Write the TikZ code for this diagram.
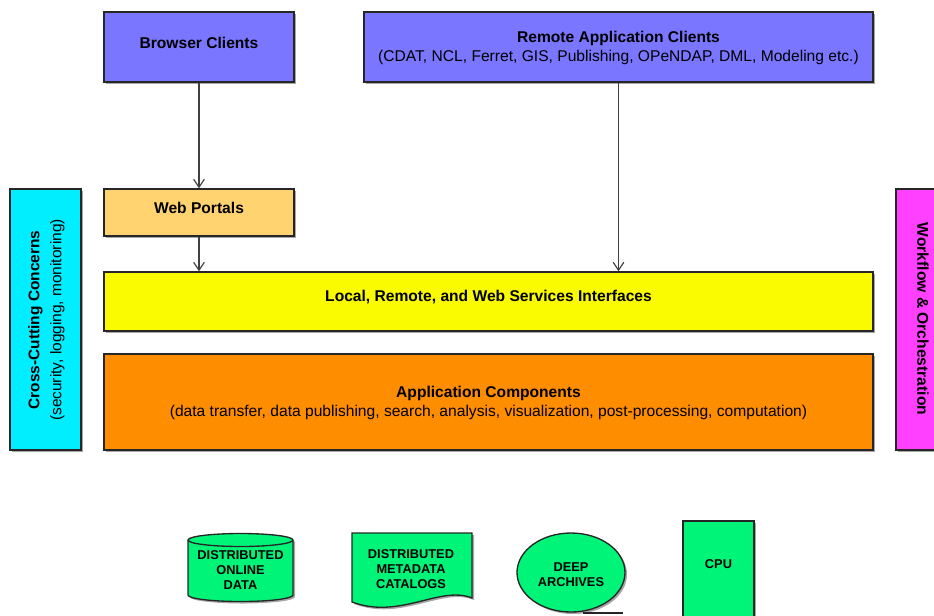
\documentclass[tikz,border=0pt]{standalone}
\usepackage{fontspec}
\setmainfont{Liberation Sans}
\usetikzlibrary{fit,shadows,arrows.meta}

\definecolor{clientblue}{RGB}{123,118,255}
\definecolor{portalsand}{RGB}{255,211,112}
\definecolor{ifaceyellow}{RGB}{250,250,0}
\definecolor{compsorange}{RGB}{255,141,0}
\definecolor{crosscyan}{RGB}{0,238,255}
\definecolor{flowmagenta}{RGB}{255,64,255}
\definecolor{resgreen}{RGB}{0,245,120}

\tikzset{every picture/.style={line width=0.75pt},
  boxshadow/.style={drop shadow={shadow xshift=1.5pt,shadow yshift=-1.5pt,opacity=0.35,fill=black}},
  layer/.style={draw=black!85,line width=1pt,inner sep=0pt,boxshadow},
  boxtext/.style={inner sep=0.75pt,align=center,font=\fontsize{11.7}{14.2}\selectfont},
  sidetext/.style={inner sep=0.75pt,align=center,font=\fontsize{11.6}{16.5}\selectfont},
  restext/.style={inner sep=0.75pt,align=center,font=\fontsize{9.6}{11.2}\selectfont\bfseries},
  flow/.style={draw=black!75,line width=0.9pt,-{Straight Barb[length=6pt,width=8pt]}}
}

\begin{document}
\begin{tikzpicture}[x=0.75pt,y=0.75pt,yscale=-1,xscale=1]
\useasboundingbox (0,0) rectangle (934,615);
\clip (0,0) rectangle (934,615);

%Shape: Rectangle
\node [layer,fill=clientblue,fit={(104,12) (294,82)}] (browser) {};
%Shape: Rectangle
\node [layer,fill=clientblue,fit={(364,12) (873,82)}] (remote) {};
%Shape: Rectangle
\node [layer,fill=portalsand,fit={(104,189) (294,236)}] (portals) {};
%Shape: Rectangle
\node [layer,fill=ifaceyellow,fit={(104,272) (873,331)}] (iface) {};
%Shape: Rectangle
\node [layer,fill=compsorange,fit={(104,354) (873,450)}] (comps) {};
%Shape: Rectangle
\node [layer,fill=crosscyan,fit={(10,189) (81,450)}] (cross) {};
%Shape: Rectangle
\node [layer,fill=flowmagenta,fit={(896,189) (950,450)}] (flow) {};

%Shape: Can
\draw [layer,fill=resgreen] (188,540) -- (188,595) arc [start angle=180,end angle=0,x radius=52.5,y radius=6.5] -- (293,540) arc [start angle=0,end angle=-180,x radius=52.5,y radius=6.5] -- cycle ;
\draw [draw=black!85,line width=1pt] (188,540) arc [start angle=180,end angle=0,x radius=52.5,y radius=6.5] ;
%Shape: Document
\draw [layer,fill=resgreen] (352,533) -- (472,533) -- (472,598) .. controls (440,585) and (400,620) .. (352,602) -- cycle ;
%Shape: Ellipse
\draw [layer,fill=resgreen] (571,572.5) ellipse [x radius=54,y radius=39.5] ;
%Shape: Rectangle
\draw [layer,fill=resgreen] (683,521) rectangle (754,650) ;
%Straight Lines
\draw [draw=black!85,line width=1pt] (583,613) -- (623,613) ;

% Text Node
\draw (199,42.5) node [boxtext] (browserlbl) {\bfseries Browser Clients};
% Text Node
\draw (618.5,47.5) node [boxtext] (remotelbl) {\bfseries Remote Application Clients\\(CDAT, NCL, Ferret, GIS, Publishing, OPeNDAP, DML, Modeling etc.)};
% Text Node
\draw (199,208) node [boxtext] (portalslbl) {\bfseries Web Portals};
% Text Node
\draw (488.5,297) node [boxtext] (ifacelbl) {\bfseries Local, Remote, and Web Services Interfaces};
% Text Node
\draw (488.5,402.5) node [boxtext] (compslbl) {\bfseries Application Components\\(data transfer, data publishing, search, analysis, visualization, post-processing, computation)};
% Text Node
\draw (46.5,320) node [sidetext,rotate=90] (crosslbl) {\bfseries Cross-Cutting Concerns\\(security, logging, monitoring)};
% Text Node
\draw (923,319) node [boxtext,rotate=-90] (flowlbl) {\bfseries Workflow \& Orchestration};
% Text Node
\draw (240.5,570) node [restext] (onlinedata) {DISTRIBUTED\\ONLINE\\DATA};
% Text Node
\draw (411,569.5) node [restext] (catalogs) {DISTRIBUTED\\METADATA\\CATALOGS};
% Text Node
\draw (571,574.5) node [restext] (archives) {DEEP\\ARCHIVES};
% Text Node
\draw (718.5,564.5) node [restext] (cpu) {CPU};

%Straight Lines
\draw [flow] (browser.south) -- (portals.north) ;
%Straight Lines
\draw [flow] (portals.south) -- (portals.south |- iface.north) ;
%Straight Lines
\draw [flow] (remote.south) -- (remote.south |- iface.north) ;

\end{tikzpicture}
\end{document}
